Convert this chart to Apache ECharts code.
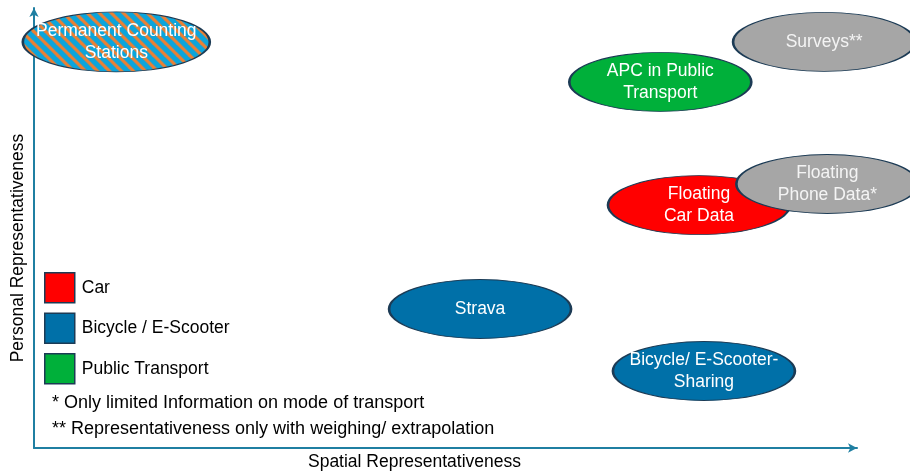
<!DOCTYPE html>
<html>
<head>
<meta charset="utf-8">
<script src="https://cdn.jsdelivr.net/npm/echarts@6/dist/echarts.min.js"></script>
<style>
html,body{margin:0;padding:0;background:#fff;}
#chart{width:910px;height:471px;}
</style>
</head>
<body>
<div id="chart"></div>
<script>
// ---- data ----
var carNames = ['Floating\nCar Data'];
var carX = [80.8];
var carY = [55.2];

var bikeNames = ['Strava', 'Bicycle/ E-Scooter-\nSharing'];
var bikeX = [54.2, 81.4];
var bikeY = [31.6, 17.5];

var ptNames = ['APC in Public\nTransport'];
var ptX = [76.1];
var ptY = [83.2];

var mixedNames = ['Surveys**', 'Floating\nPhone Data*'];
var mixedX = [96.0, 96.4];
var mixedY = [92.3, 60.0];

var countNames = ['Permanent Counting\nStations'];
var countX = [10.0];
var countY = [92.3];

var legendNames = ['Car', 'Bicycle / E-Scooter', 'Public Transport'];
var notes = ['* Only limited Information on mode of transport',
             '** Representativeness only with weighing/ extrapolation'];
var xTitle = 'Spatial Representativeness';
var yTitle = 'Personal Representativeness';

// ---- styling ----
var FONT = '"Liberation Sans", Arial, sans-serif';
var AXIS = '#1f7fa2';
var EDGE = '#1c3b55';
var ELLIPSE = 'path://M0,50A50,50 0 1 1 100,50A50,50 0 1 1 0,50Z';
var COUNT_SIZE = [187, 60];

function stripes() {
  var s = 12;
  var c = document.createElement('canvas');
  c.width = s; c.height = s;
  var g = c.getContext('2d');
  g.fillStyle = '#0ba5dc';
  g.fillRect(0, 0, s, s);
  g.strokeStyle = '#ef7f31';
  g.lineWidth = 3.2;
  for (var k = -1; k <= 1; k++) {
    g.beginPath();
    g.moveTo(k * s - 2, -2);
    g.lineTo(k * s + s + 2, s + 2);
    g.stroke();
  }
  return c;
}

function pts(xs, ys, names) {
  return xs.map(function (x, i) { return { value: [x, ys[i]], name: names[i] }; });
}

function ser(name, xs, ys, names, fill, txt, size) {
  return {
    name: name,
    type: 'scatter',
    symbol: ELLIPSE,
    symbolSize: size || [182, 59],
    data: pts(xs, ys, names),
    itemStyle: { color: fill, borderColor: EDGE, borderWidth: 1.5, opacity: 1 },
    label: {
      show: true, position: 'inside', formatter: '{b}',
      color: txt || '#ffffff', fontSize: 17.5, fontFamily: FONT, lineHeight: 22
    },
    emphasis: { disabled: true },
    silent: true
  };
}

var chart = echarts.init(document.getElementById('chart'), null, { renderer: 'canvas' });
chart.setOption({
  animation: false,
  backgroundColor: '#ffffff',
  grid: { left: 34, right: 53, top: 8, bottom: 23, outerBoundsMode: 'none', containLabel: false },
  xAxis: {
    type: 'value', min: 0, max: 100,
    axisLine: { show: true, lineStyle: { color: AXIS, width: 2 }, symbol: ['none', 'arrow'], symbolSize: [7, 9] },
    axisTick: { show: false }, axisLabel: { show: false }, splitLine: { show: false },
    name: xTitle, nameLocation: 'middle', nameGap: 5,
    nameTextStyle: { color: '#000', fontSize: 17.5, fontFamily: FONT, padding: [0, 62, 0, 0] }
  },
  yAxis: {
    type: 'value', min: 0, max: 100,
    axisLine: { show: true, lineStyle: { color: AXIS, width: 2 }, symbol: ['none', 'arrow'], symbolSize: [7, 9] },
    axisTick: { show: false }, axisLabel: { show: false }, splitLine: { show: false },
    name: yTitle, nameLocation: 'middle', nameGap: 7,
    nameTextStyle: { color: '#000', fontSize: 17.5, fontFamily: FONT, padding: [0, 40, 0, 0] }
  },
  legend: {
    data: legendNames,
    orient: 'vertical', left: 44, top: 272, padding: 0,
    icon: 'rect', itemWidth: 30, itemHeight: 30, itemGap: 9,
    textStyle: { color: '#000', fontSize: 17.5, fontFamily: FONT, padding: [0, 0, 0, 2] },
    itemStyle: { borderColor: EDGE, borderWidth: 1.5 },
    selectedMode: false
  },
  graphic: notes.map(function (t, i) {
    return { type: 'text', left: 52, top: 394 + i * 26, silent: true,
      style: { text: t, fill: '#000', font: '18px ' + FONT } };
  }),
  series: [
    ser('Car', carX, carY, carNames, '#ff0000'),
    ser('Bicycle / E-Scooter', bikeX, bikeY, bikeNames, '#0070a8'),
    ser('Public Transport', ptX, ptY, ptNames, '#00b03a'),
    ser('Mixed', mixedX, mixedY, mixedNames, '#a6a6a6', '#f4f4f4'),
    ser('Counting', countX, countY, countNames,
        { image: stripes(), repeat: 'repeat', scaleX: 2 / COUNT_SIZE[0], scaleY: 2 / COUNT_SIZE[1] },
        '#ffffff', COUNT_SIZE)
  ]
});
</script>
</body>
</html>
